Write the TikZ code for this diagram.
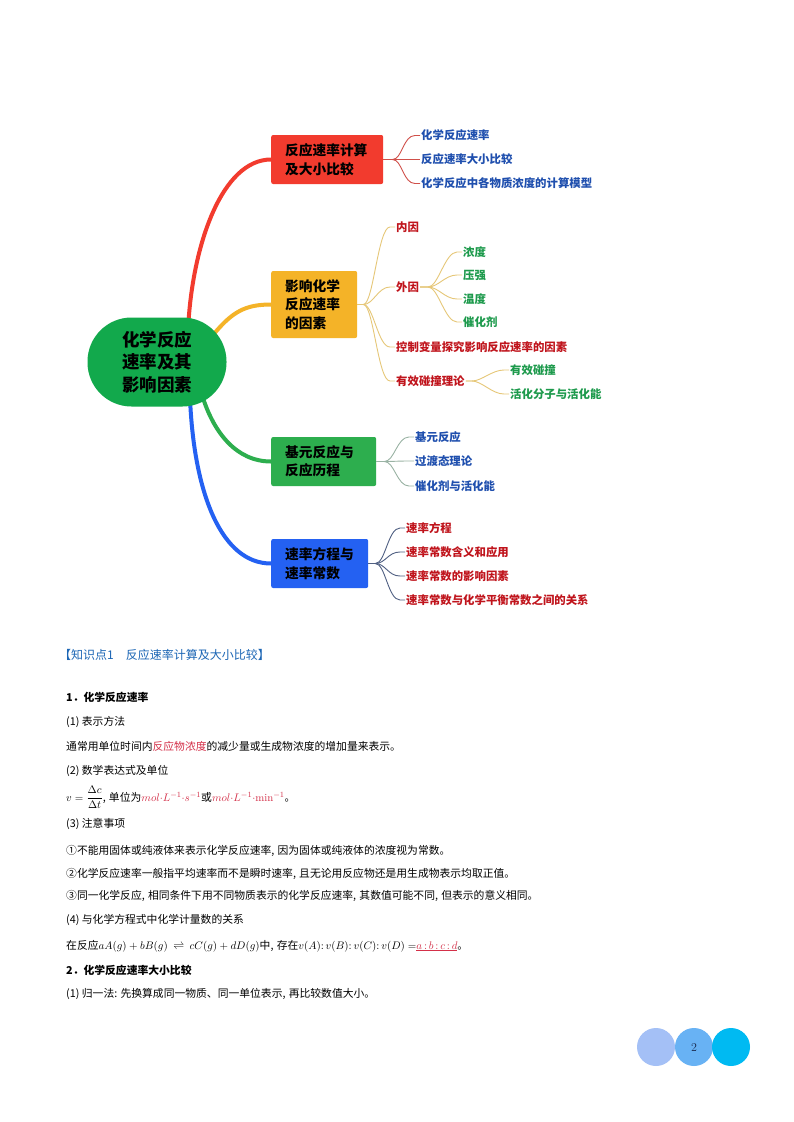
\documentclass[tikz,border=0pt]{standalone}
\usepackage{amsmath}
\usepackage{fontspec}
\newfontfamily\cjk{Noto Sans CJK SC}
\usetikzlibrary{backgrounds}
\newcommand{\zcomma}{,\hspace{0.3em}}
\definecolor{cgreen}{HTML}{12A94C}
\definecolor{bred}{HTML}{F23B2E}
\definecolor{byellow}{HTML}{F4B328}
\definecolor{bgreen}{HTML}{2DAE4E}
\definecolor{bblue}{HTML}{2461F2}
\definecolor{lred}{HTML}{D0504A}
\definecolor{lyellow}{HTML}{E6C778}
\definecolor{lgreen}{HTML}{9AB3A4}
\definecolor{lblue}{HTML}{4F5F82}
\definecolor{tblue}{HTML}{1F4FAE}
\definecolor{tred}{HTML}{C0141C}
\definecolor{tgreen}{HTML}{1D9A4C}
\definecolor{hblue}{HTML}{1C66B5}
\definecolor{mred}{HTML}{D43049}
\definecolor{pc1}{HTML}{A4C0F6}
\definecolor{pc2}{HTML}{68B2F4}
\definecolor{pc3}{HTML}{00BAF2}
\definecolor{pnum}{HTML}{1B2B50}
\begin{document}
\begin{tikzpicture}[x=1pt,y=-1pt,
  central/.style={fill=cgreen, rounded corners=44pt, minimum width=139pt, minimum height=89pt, inner sep=0pt, align=center, font=\cjk\bfseries\fontsize{17.5}{22.5}\selectfont},
  topic/.style={rounded corners=2pt, anchor=west, inner xsep=14pt, inner ysep=0pt, align=left, font=\cjk\bfseries\fontsize{13.7}{18.5}\selectfont},
  leaf/.style={anchor=west, inner sep=1pt, font=\cjk\bfseries\fontsize{11.4}{13}\selectfont},
  mainline/.style={line width=4pt},
  sub/.style={line width=0.9pt, to path={-- ++(#1,0) .. controls +(10,0) and +(-12,0) .. ([xshift=-5pt]\tikztotarget.west) -- (\tikztotarget.west)}},
  sub/.default=8,
  body/.style={anchor=base west, inner sep=0pt, font=\cjk\fontsize{10.8}{13}\selectfont},
  pcirc/.style={circle, minimum size=38pt, inner sep=0pt}
]
\path[use as bounding box] (0,0) rectangle (794,1122);

% central and topics
\node[central] (c) at (157,362) {化学反应\\速率及其\\影响因素};
\node[topic, fill=bred, text width=84pt, minimum height=49pt] (b1) at (271,159.5) {反应速率计算\\及大小比较};
\node[topic, fill=byellow, text width=58pt, minimum height=67pt] (b2) at (271,304.5) {影响化学\\反应速率\\的因素};
\node[topic, fill=bgreen, text width=77pt, minimum height=49pt] (b3) at (271,461.5) {基元反应与\\反应历程};
\node[topic, fill=bblue, text width=69pt, minimum height=49pt] (b4) at (271,563.5) {速率方程与\\速率常数};

% leaves
\begin{scope}[every node/.append style={leaf}]
\node[text=tblue] (r1) at (420,135.5) {化学反应速率};
\node[text=tblue] (r2) at (420,159.5) {反应速率大小比较};
\node[text=tblue] (r3) at (420,183.5) {化学反应中各物质浓度的计算模型};
\node[text=tred] (y1) at (395,227) {内因};
\node[text=tred] (y2) at (395,287) {外因};
\node[text=tred] (y3) at (395,347) {控制变量探究影响反应速率的因素};
\node[text=tred] (y4) at (395,381) {有效碰撞理论};
\node[text=tgreen] (w1) at (462,252) {浓度};
\node[text=tgreen] (w2) at (462,275) {压强};
\node[text=tgreen] (w3) at (462,299) {温度};
\node[text=tgreen] (w4) at (462,322) {催化剂};
\node[text=tgreen] (e1) at (509,370) {有效碰撞};
\node[text=tgreen] (e2) at (509,394) {活化分子与活化能};
\node[text=tblue] (g1) at (414,437) {基元反应};
\node[text=tblue] (g2) at (414,461) {过渡态理论};
\node[text=tblue] (g3) at (414,486) {催化剂与活化能};
\node[text=tred] (u1) at (405,528) {速率方程};
\node[text=tred] (u2) at (405,552) {速率常数含义和应用};
\node[text=tred] (u3) at (405,576) {速率常数的影响因素};
\node[text=tred] (u4) at (405,600) {速率常数与化学平衡常数之间的关系};
\end{scope}

% main connectors
\begin{scope}[on background layer]
\fill[white] (0,0) rectangle (794,1122);
\draw[mainline, bred] ([shift={(31,-32)}]c.center) .. controls (192,245) and (222,159.5) .. (b1.west);
\draw[mainline, byellow] ([shift={(56,-27)}]c.center) .. controls (232,312) and (245,304.5) .. (b2.west);
\draw[mainline, bgreen] ([shift={(46,36)}]c.center) .. controls (214,432) and (236,461.5) .. (b3.west);
\draw[mainline, bblue] ([shift={(33,36)}]c.center) .. controls (194,495) and (222,563.5) .. (b4.west);
\end{scope}

% sub connectors
\draw[lred, sub=9] (b1.east) to (r1);
\draw[lred, sub=9] (b1.east) to (r2);
\draw[lred, sub=9] (b1.east) to (r3);
\draw[lyellow, sub=6] (b2.east) to (y1);
\draw[lyellow, sub=6] (b2.east) to (y2);
\draw[lyellow, sub=6] (b2.east) to (y3);
\draw[lyellow, sub=6] (b2.east) to (y4);
\draw[lyellow, sub=8] (y2.east) to (w1);
\draw[lyellow, sub=8] (y2.east) to (w2);
\draw[lyellow, sub=8] (y2.east) to (w3);
\draw[lyellow, sub=8] (y2.east) to (w4);
\draw[lyellow, sub=6] (y4.east) to (e1);
\draw[lyellow, sub=6] (y4.east) to (e2);
\draw[lgreen, sub=8] (b3.east) to (g1);
\draw[lgreen, sub=8] (b3.east) to (g2);
\draw[lgreen, sub=8] (b3.east) to (g3);
\draw[lblue, sub=7] (b4.east) to (u1);
\draw[lblue, sub=7] (b4.east) to (u2);
\draw[lblue, sub=7] (b4.east) to (u3);
\draw[lblue, sub=7] (b4.east) to (u4);

% body text
\node[body, text=hblue, font=\cjk\fontsize{12}{14}\selectfont] (h) at (59,659) {【知识点1　反应速率计算及大小比较】};
\node[body, font=\cjk\bfseries\fontsize{10.8}{13}\selectfont] (t1) at (66,701) {1．化学反应速率};
\node[body] (t2) at (66,725) {(1) 表示方法};
\node[body] (t3) at (66,750) {通常用单位时间内{\color{mred}反应物浓度}的减少量或生成物浓度的增加量来表示。};
\node[body] (t4) at (66,774) {(2) 数学表达式及单位};
\node[body] (t5) at (66,801) {$v=\dfrac{\Delta c}{\Delta t}$\zcomma 单位为{\color{mred}$mol{\cdot}L^{-1}{\cdot}s^{-1}$}或{\color{mred}$mol{\cdot}L^{-1}{\cdot}\mathrm{min}^{-1}$}。};
\node[body] (t6) at (66,827) {(3) 注意事项};
\node[body] (t7) at (66,854) {①不能用固体或纯液体来表示化学反应速率\zcomma 因为固体或纯液体的浓度视为常数。};
\node[body] (t8) at (66,877) {②化学反应速率一般指平均速率而不是瞬时速率\zcomma 且无论用反应物还是用生成物表示均取正值。};
\node[body] (t9) at (66,899) {③同一化学反应\zcomma 相同条件下用不同物质表示的化学反应速率\zcomma 其数值可能不同\zcomma 但表示的意义相同。};
\node[body] (t10) at (66,923) {(4) 与化学方程式中化学计量数的关系};
\node[body] (t11) at (66,949) {在反应$aA(g)+bB(g)\ \rightleftharpoons\ cC(g)+dD(g)$中\zcomma 存在$v(A){:}\,v(B){:}\,v(C){:}\,v(D)=$\textcolor{mred}{\underline{$a{\,:\,}b{\,:\,}c{\,:\,}d$}}。};
\node[body, font=\cjk\bfseries\fontsize{10.8}{13}\selectfont] (t12) at (66,974) {2．化学反应速率大小比较};
\node[body] (t13) at (66,997) {(1) 归一法:\hspace{0.3em}先换算成同一物质、同一单位表示\zcomma 再比较数值大小。};

% page number
\node[pcirc, fill=pc1] (p1) at (656,1047) {};
\node[pcirc, fill=pc2, text=pnum, font=\fontsize{12}{14}\selectfont] (p2) at (694,1047) {2};
\node[pcirc, fill=pc3] (p3) at (731,1047) {};
\end{tikzpicture}
\end{document}
